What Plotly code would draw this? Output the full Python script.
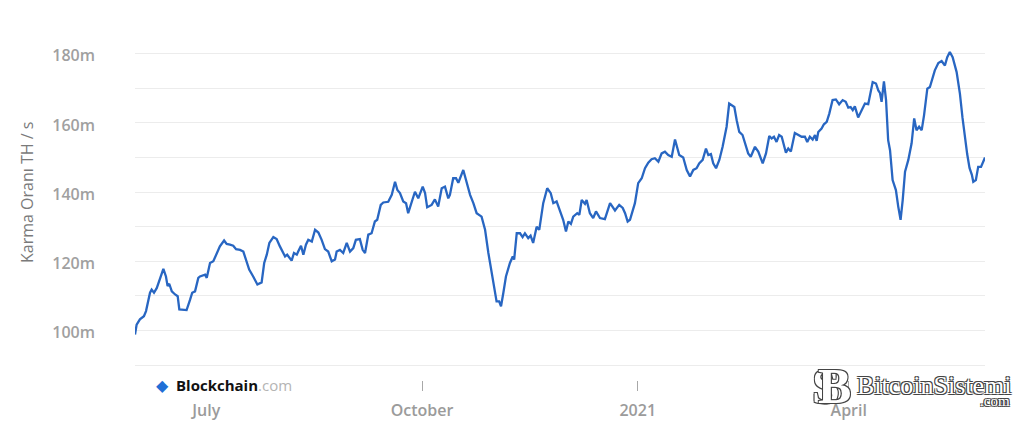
import pandas as pd
import plotly.graph_objects as go

# ---------------- data ----------------
base_date = "2020-05-31"

day_offsets = [
    0.6, 1.3, 2.7, 4.4, 5.3, 7.0, 7.7, 8.7, 9.9, 11.3, 12.7, 13.8, 14.5, 15.2, 16.3,
    17.7, 18.8, 19.5, 20.9, 22.6, 24.1, 25.0, 26.2, 27.6, 28.3, 30.5, 31.2, 32.6, 34.0,
    35.4, 36.8, 38.6, 39.7, 41.1, 42.5, 43.7, 45.4, 46.8, 48.2, 49.3, 51.0, 52.8, 54.6,
    55.7, 56.8, 57.9, 59.6, 61.0, 62.4, 63.6, 64.6, 65.5, 66.4, 67.4, 68.4, 69.6, 70.2,
    71.4, 72.4, 73.5, 74.5, 76.0, 77.4, 78.8, 80.2, 81.6, 83.0, 84.5, 85.9, 86.6,
    88.0, 89.4, 90.9, 92.3, 93.7, 94.8, 96.5, 97.7, 98.7, 100.1, 101.5, 102.9, 103.9,
    105.4, 106.5, 108.6, 110.1, 111.5, 112.5, 113.6, 115.0, 116.2, 117.1, 118.2, 120.0,
    121.4, 123.3, 124.3, 125.2, 127.1, 128.5, 129.9, 131.4, 132.8, 134.2, 134.9, 136.3,
    137.5, 138.5, 140.6, 142.0, 143.5, 144.9, 146.3, 148.4, 149.9, 151.3, 152.7, 154.1,
    154.8, 155.9, 156.7, 157.7, 158.8, 160.5, 161.7, 162.3, 163.4, 164.8, 165.9, 166.9,
    168.3, 169.3, 170.4, 171.9, 173.0, 174.7, 176.4, 177.9, 179.0, 180.4, 181.8, 183.2,
    184.4, 185.4, 186.5, 187.5, 189.2, 190.1, 191.1, 192.5, 193.2, 194.6, 196.0, 197.2,
    198.9, 201.0, 203.2, 204.3, 205.3, 207.1, 208.6, 209.6, 210.7, 211.7, 213.1, 213.8,
    215.2, 216.7, 218.1, 219.5, 220.9, 222.3, 223.8, 225.2, 226.6, 228.0, 229.5, 230.9,
    232.7, 234.4, 235.9, 237.3, 238.7, 240.1, 241.2, 242.7, 244.1, 245.1, 246.2, 247.2,
    248.4, 249.8, 251.2, 252.9, 254.0, 255.1, 256.2, 257.2, 258.3, 259.7, 260.7, 262.1,
    263.2, 265.0, 266.4, 268.3, 269.7, 271.1, 272.1, 273.1, 274.2, 275.3, 276.4, 278.2,
    279.2, 280.3, 282.0, 283.5, 284.9, 286.3, 287.3, 288.4, 289.6, 290.6, 291.3, 292.0,
    293.4, 294.4, 295.6, 296.7, 298.1, 299.5, 300.9, 302.4, 303.7, 304.8, 305.8, 306.7,
    307.6, 309.0, 310.5, 311.9, 313.3, 314.0, 315.2, 316.6, 317.6, 318.3, 319.0, 320.0,
    320.9, 321.8, 322.6, 323.7, 325.1, 326.1, 327.1, 328.0, 329.0, 330.4, 331.8, 332.9,
    333.9, 335.0, 336.1, 337.1, 338.5, 339.6, 340.8, 341.7, 343.2, 344.6, 346.0, 347.0,
    348.1, 349.3, 351.0, 352.4, 353.5, 354.5, 355.5, 356.5, 357.5, 358.1, 359.2, 360.2,
    361.4, 363.1,
]

hash_rate_m = [
    98.8, 101.7, 103.2, 104.1, 105.6, 110.9, 111.8, 110.9, 112.3, 115.2, 117.8, 115.6, 112.8, 113.5, 111.3,
    110.4, 109.9, 106.1, 106.1, 105.9, 108.9, 110.9, 111.3, 115.2, 115.6, 116.1, 115.2, 119.5, 120.0,
    122.4, 124.3, 126.0, 125.0, 124.8, 124.5, 123.5, 123.3, 122.8, 119.5, 117.6, 115.6, 113.3, 113.9,
    119.5, 121.9, 125.3, 127.0, 126.4, 124.3, 122.8, 121.4, 121.9, 121.1, 120.2, 122.4, 121.9, 122.8,
    124.5, 121.9, 124.8, 126.2, 125.7, 129.1, 128.3, 126.2, 123.5, 122.8, 120.0, 120.5, 122.8,
    123.3, 122.4, 125.3, 122.8, 123.8, 126.2, 126.4, 123.3, 122.4, 127.7, 128.1, 131.5, 132.0,
    136.3, 137.0, 137.2, 139.2, 143.0, 140.6, 139.7, 137.3, 136.8, 133.9, 136.3, 140.1,
    138.2, 141.6, 139.7, 135.6, 136.3, 137.9, 135.8, 141.1, 141.6, 138.2, 139.2, 144.0,
    144.0, 142.7, 146.4, 143.0, 139.2, 136.8, 133.9, 132.9, 129.1, 122.4, 116.6, 111.8,
    108.4, 108.4, 107.0, 110.9, 115.6, 119.5, 121.4, 120.5, 128.1, 128.1, 127.0, 128.1,
    126.7, 127.4, 125.3, 130.0, 129.1, 136.8, 141.1, 139.7, 136.8, 137.3, 134.9, 132.0,
    128.6, 131.5, 130.8, 132.9, 133.9, 133.4, 137.7, 136.6, 137.7, 133.9, 132.5, 134.4,
    132.5, 132.2, 136.8, 135.8, 134.7, 136.3, 135.4, 133.9, 131.5, 132.0, 134.9, 136.8,
    142.6, 144.0, 146.9, 148.5, 149.5, 149.8, 148.8, 151.2, 151.7, 150.7, 150.2, 155.2,
    150.7, 150.0, 146.4, 144.5, 146.4, 146.9, 148.3, 149.3, 152.6, 150.7, 151.0, 148.3,
    146.9, 149.3, 153.1, 158.9, 165.6, 165.1, 164.6, 160.8, 157.4, 156.5, 154.5, 151.2,
    150.2, 153.1, 151.7, 148.3, 151.2, 156.2, 155.5, 156.0, 154.5, 156.5, 156.0, 151.4,
    152.6, 151.7, 157.1, 156.5, 156.0, 156.0, 154.5, 156.0, 155.2, 156.5, 154.8, 157.4,
    158.4, 159.6, 160.3, 162.7, 166.6, 166.8, 165.4, 166.6, 166.1, 164.4, 164.6, 163.7,
    164.8, 161.6, 163.7, 165.6, 165.4, 167.5, 171.8, 171.4, 169.4, 168.7, 166.1, 172.0,
    166.6, 155.0, 152.1, 143.5, 140.6, 135.8, 132.0, 137.7, 145.9, 149.3, 154.1, 161.3,
    157.9, 158.9, 157.9, 162.2, 169.9, 170.4, 173.3, 175.2, 177.3, 177.9, 176.6, 179.0,
    180.5, 179.0, 174.7, 168.5, 161.5, 156.0, 151.0, 147.0, 145.0, 143.0, 143.5, 147.3,
    147.3, 150.0,
]

x_tick_dates = ["2020-07-01", "2020-10-01", "2021-01-01", "2021-04-01"]
x_tick_labels = ["July", "October", "2021", "April"]

y_tick_vals = [90, 100, 110, 120, 130, 140, 150, 160, 170, 180, 190]
y_tick_text = ["", "100m", "", "120m", "", "140m", "", "160m", "", "180m", ""]

y_title = "Karma Oranı TH / s"

# ---------------- figure ----------------
dates = pd.Timestamp(base_date) + pd.to_timedelta(day_offsets, unit="D")

W, H = 1024, 421
PL, PR, PT, PB = 135, 985, 19, 380   # plot area in pixels


def px(x):
    return (x - PL) / (PR - PL)


def py(y):
    return (PB - y) / (PB - PT)


fig = go.Figure(
    go.Scatter(
        x=dates,
        y=hash_rate_m,
        mode="lines",
        line=dict(color="#2866c2", width=2.3),
        hoverinfo="skip",
    )
)

fig.update_layout(
    width=W,
    height=H,
    margin=dict(l=PL, r=W - PR, t=PT, b=H - PB, autoexpand=False),
    paper_bgcolor="white",
    plot_bgcolor="white",
    showlegend=False,
    font=dict(family="Open Sans", color="#9b9b9b", size=16),
)

fig.update_xaxes(
    automargin=False,
    range=[str(dates[0]), str(dates[-1])],
    tickvals=list(pd.to_datetime(x_tick_dates)),
    ticktext=x_tick_labels,
    ticks="outside",
    ticklen=10,
    tickwidth=1,
    tickcolor="#a8a8a8",
    ticklabelstandoff=6,
    showgrid=False,
    zeroline=False,
    showline=False,
    tickfont=dict(family="Open Sans", size=16, color="#9b9b9b", weight=600),
)

fig.update_yaxes(
    automargin=False,
    range=[85.67, 190.05],
    tickvals=y_tick_vals,
    ticktext=y_tick_text,
    showgrid=True,
    gridcolor="#ececec",
    gridwidth=1,
    zeroline=False,
    showline=False,
    ticks="",
    ticklabelstandoff=39,
    ticklabelshift=2,
    tickfont=dict(family="Open Sans", size=16, color="#a0a0a0", weight=600),
)

outline = "1px 1px 0 #444, -1px -1px 0 #444, 1px -1px 0 #444, -1px 1px 0 #444"

annotations = [
    dict(text=y_title, x=px(27), y=py(193), xref="paper", yref="paper",
         textangle=-90, showarrow=False, xanchor="center", yanchor="middle",
         font=dict(family="Open Sans", size=16, color="#7a7a7a")),
    # Blockchain.com logo
    dict(text="◆", x=px(162), y=py(385), xref="paper", yref="paper",
         showarrow=False, xanchor="center", yanchor="middle",
         font=dict(family="DejaVu Sans", size=16, color="#1f6fd6"),
         bgcolor="white"),
    dict(text="<b>Blockchain</b><span style='color:#b4b4b4'>.com</span>",
         x=px(174), y=py(385), xref="paper", yref="paper",
         showarrow=False, xanchor="left", yanchor="middle",
         font=dict(family="Open Sans", size=15, color="#111111"),
         bgcolor="white"),
    # BitcoinSistemi watermark
    dict(text="<b>S</b>", x=px(826), y=py(386), xref="paper", yref="paper",
         showarrow=False, xanchor="center", yanchor="middle",
         font=dict(family="Liberation Serif", size=50, color="white", shadow=outline)),
    dict(text="<b>B</b>", x=px(834), y=py(386), xref="paper", yref="paper",
         showarrow=False, xanchor="center", yanchor="middle",
         font=dict(family="Liberation Serif", size=50, color="white", shadow=outline)),
    dict(text="BitcoinSistemi", x=px(855), y=py(385), xref="paper", yref="paper",
         showarrow=False, xanchor="left", yanchor="middle",
         font=dict(family="Liberation Serif", size=26, color="white", shadow=outline)),
    dict(text=".com", x=px(1012), y=py(401), xref="paper", yref="paper",
         showarrow=False, xanchor="right", yanchor="middle",
         font=dict(family="Liberation Serif", size=15, color="white", shadow=outline)),
]
fig.update_layout(annotations=annotations)

# pin the figure to the page corner (removes the browser's default 8px body margin)
pin_script = (
    "document.documentElement.style.margin='0';"
    "document.body.style.margin='0';"
    "var gd=document.getElementById('{plot_id}');"
    "gd.style.position='fixed';gd.style.left='0px';gd.style.top='0px';"
)

fig.write_html("out.html", config={"displayModeBar": False}, post_script=pin_script)
